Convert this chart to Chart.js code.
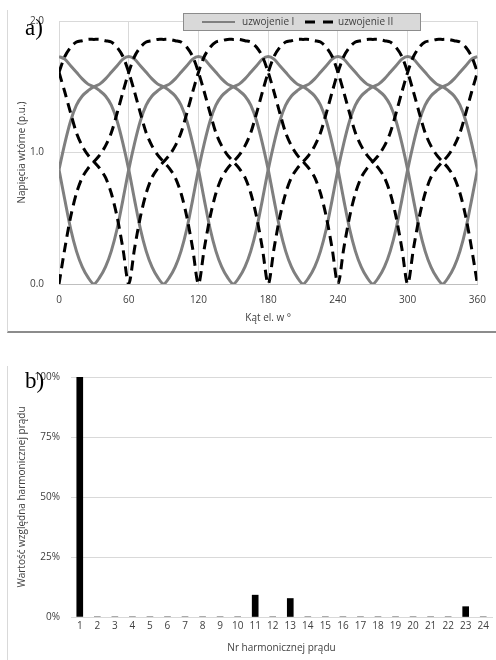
<!DOCTYPE html>
<html>
<head>
<meta charset="utf-8">
<script src="https://cdn.jsdelivr.net/npm/chart.js@4.4.1/dist/chart.umd.min.js"></script>
<style>
  body { margin: 0; background: #fff; }
  #page { position: relative; width: 496px; height: 660px; overflow: hidden; }
  canvas { position: absolute; left: 0; }
  #chartA { top: 0; width: 496px; height: 334px; }
  #chartB { top: 340px; width: 496px; height: 320px; }
  #frameA { position: absolute; left: 7px; top: 10px; width: 489px; height: 321px;
            border-left: 1px solid #d9d9d9; border-bottom: 2px solid #8c8c8c; }
  #frameB { position: absolute; left: 7px; top: 366px; width: 489px; height: 294px;
            border-left: 1px solid #d9d9d9; }
</style>
</head>
<body>
<div id="page">
  <div id="frameA"></div>
  <canvas id="chartA" width="496" height="334"></canvas>
  <div id="frameB"></div>
  <canvas id="chartB" width="496" height="320"></canvas>
</div>
<script>
// --- a) secondary voltages, every 5 degrees ---
const angles = [0,5,10,15,20,25,30,35,40,45,50,55,60,65,70,75,80,85,90,95,100,105,110,115,120,125,130,135,140,145,150,155,160,165,170,175,
  180,185,190,195,200,205,210,215,220,225,230,235,240,245,250,255,260,265,270,275,280,285,290,295,300,305,310,315,320,325,330,335,340,345,350,355,360];

// uzwojenie I (three gray curves)
const windingI_a = [
  0.87,0.64,0.42,0.25,0.13,0.05,0,0.05,0.13,0.25,0.42,0.64,
  0.87,1.07,1.24,1.36,1.43,1.47,1.50,1.52,1.56,1.61,1.66,1.71,
  1.73,1.71,1.66,1.61,1.56,1.52,1.50,1.47,1.43,1.36,1.24,1.07,
  0.87,0.64,0.42,0.25,0.13,0.05,0,0.05,0.13,0.25,0.42,0.64,
  0.87,1.07,1.24,1.36,1.43,1.47,1.50,1.52,1.56,1.61,1.66,1.71,
  1.73,1.71,1.66,1.61,1.56,1.52,1.50,1.47,1.43,1.36,1.24,1.07,
  0.87];
const windingI_b = [
  1.73,1.71,1.66,1.61,1.56,1.52,1.50,1.47,1.43,1.36,1.24,1.07,
  0.87,0.64,0.42,0.25,0.13,0.05,0,0.05,0.13,0.25,0.42,0.64,
  0.87,1.07,1.24,1.36,1.43,1.47,1.50,1.52,1.56,1.61,1.66,1.71,
  1.73,1.71,1.66,1.61,1.56,1.52,1.50,1.47,1.43,1.36,1.24,1.07,
  0.87,0.64,0.42,0.25,0.13,0.05,0,0.05,0.13,0.25,0.42,0.64,
  0.87,1.07,1.24,1.36,1.43,1.47,1.50,1.52,1.56,1.61,1.66,1.71,
  1.73];
const windingI_c = [
  0.87,1.07,1.24,1.36,1.43,1.47,1.50,1.52,1.56,1.61,1.66,1.71,
  1.73,1.71,1.66,1.61,1.56,1.52,1.50,1.47,1.43,1.36,1.24,1.07,
  0.87,0.64,0.42,0.25,0.13,0.05,0,0.05,0.13,0.25,0.42,0.64,
  0.87,1.07,1.24,1.36,1.43,1.47,1.50,1.52,1.56,1.61,1.66,1.71,
  1.73,1.71,1.66,1.61,1.56,1.52,1.50,1.47,1.43,1.36,1.24,1.07,
  0.87,0.64,0.42,0.25,0.13,0.05,0,0.05,0.13,0.25,0.42,0.64,
  0.87];

// uzwojenie II (three black dashed curves)
const windingII_a = [
  0,0.27,0.51,0.69,0.81,0.88,0.93,0.98,1.05,1.15,1.30,1.46,
  1.61,1.73,1.80,1.84,1.85,1.86,1.86,1.86,1.85,1.84,1.80,1.73,
  1.61,1.46,1.30,1.15,1.05,0.98,0.93,0.88,0.81,0.69,0.51,0.27,
  0,0.27,0.51,0.69,0.81,0.88,0.93,0.98,1.05,1.15,1.30,1.46,
  1.61,1.73,1.80,1.84,1.85,1.86,1.86,1.86,1.85,1.84,1.80,1.73,
  1.61,1.46,1.30,1.15,1.05,0.98,0.93,0.88,0.81,0.69,0.51,0.27,
  0];
const windingII_b = [
  1.61,1.46,1.30,1.15,1.05,0.98,0.93,0.88,0.81,0.69,0.51,0.27,
  0,0.27,0.51,0.69,0.81,0.88,0.93,0.98,1.05,1.15,1.30,1.46,
  1.61,1.73,1.80,1.84,1.85,1.86,1.86,1.86,1.85,1.84,1.80,1.73,
  1.61,1.46,1.30,1.15,1.05,0.98,0.93,0.88,0.81,0.69,0.51,0.27,
  0,0.27,0.51,0.69,0.81,0.88,0.93,0.98,1.05,1.15,1.30,1.46,
  1.61,1.73,1.80,1.84,1.85,1.86,1.86,1.86,1.85,1.84,1.80,1.73,
  1.61];
const windingII_c = [
  1.61,1.73,1.80,1.84,1.85,1.86,1.86,1.86,1.85,1.84,1.80,1.73,
  1.61,1.46,1.30,1.15,1.05,0.98,0.93,0.88,0.81,0.69,0.51,0.27,
  0,0.27,0.51,0.69,0.81,0.88,0.93,0.98,1.05,1.15,1.30,1.46,
  1.61,1.73,1.80,1.84,1.85,1.86,1.86,1.86,1.85,1.84,1.80,1.73,
  1.61,1.46,1.30,1.15,1.05,0.98,0.93,0.88,0.81,0.69,0.51,0.27,
  0,0.27,0.51,0.69,0.81,0.88,0.93,0.98,1.05,1.15,1.30,1.46,
  1.61];

// --- b) current harmonic spectrum ---
const harmonicOrders = ['1','2','3','4','5','6','7','8','9','10','11','12','13','14','15','16','17','18','19','20','21','22','23','24'];
const harmonicValues = [100,0,0,0,0,0,0,0,0,0,9.1,0,7.7,0,0,0,0,0,0,0,0,0,4.3,0];

const FONT = '"Open Sans", sans-serif';
const TXT = '#404040';
const GRID = '#d9d9d9';
const GRAY = '#7f7f7f';

const toPoints = arr => angles.map((a, i) => ({ x: a, y: arr[i] }));

const grayLine = arr => ({
  label: 'uzwojenie I', data: toPoints(arr),
  borderColor: GRAY, borderWidth: 3, order: 1
});
const dashLine = arr => ({
  label: 'uzwojenie II', data: toPoints(arr),
  borderColor: '#000', borderWidth: 3, borderDash: [10, 6], order: 0
});

// boxed legend sitting over the top of plot a)
const windingLegend = {
  id: 'windingLegend',
  afterDraw(chart) {
    const { ctx } = chart;
    const box = { x: 183.5, y: 13.5, w: 237, h: 17 };
    const cy = box.y + box.h / 2;
    ctx.save();
    ctx.fillStyle = '#d9d9d9';
    ctx.strokeStyle = '#8c8c8c';
    ctx.lineWidth = 1;
    ctx.fillRect(box.x, box.y, box.w, box.h);
    ctx.strokeRect(box.x, box.y, box.w, box.h);

    const items = [
      { text: 'uzwojenie I', color: GRAY, dash: [], x0: 202, x1: 235, tx: 242 },
      { text: 'uzwojenie II', color: '#000', dash: [10, 8], x0: 305, x1: 333, tx: 338 }
    ];
    ctx.font = '10px ' + FONT;
    ctx.textBaseline = 'middle';
    items.forEach(it => {
      ctx.beginPath();
      ctx.setLineDash(it.dash);
      ctx.strokeStyle = it.color;
      ctx.lineWidth = it.dash.length ? 3 : 2;
      ctx.moveTo(it.x0, cy);
      ctx.lineTo(it.x1, cy);
      ctx.stroke();
      ctx.setLineDash([]);
      ctx.fillStyle = TXT;
      ctx.fillText(it.text, it.tx, cy);
    });
    ctx.restore();
  }
};

// "a)" / "b)" panel tags
const panelTag = {
  id: 'panelTag',
  afterDraw(chart, args, opts) {
    const { ctx } = chart;
    ctx.save();
    ctx.font = '23px "Liberation Serif", serif';
    ctx.fillStyle = '#000';
    ctx.textBaseline = 'alphabetic';
    ctx.fillText(opts.text, opts.x, opts.y);
    ctx.restore();
  }
};

new Chart(document.getElementById('chartA'), {
  type: 'line',
  data: {
    datasets: [
      grayLine(windingI_a), grayLine(windingI_b), grayLine(windingI_c),
      dashLine(windingII_a), dashLine(windingII_b), dashLine(windingII_c)
    ]
  },
  options: {
    responsive: false,
    animation: false,
    devicePixelRatio: 1,
    layout: { padding: { left: 0, right: 13, top: 21, bottom: 0 } },
    elements: { point: { radius: 0 }, line: { tension: 0.3 } },
    plugins: {
      legend: { display: false },
      tooltip: { enabled: false },
      panelTag: { text: 'a)', x: 25, y: 35 }
    },
    scales: {
      x: {
        type: 'linear', min: 0, max: 360,
        ticks: { stepSize: 60, padding: 10, color: TXT, font: { family: FONT, size: 10 } },
        grid: { color: GRID, drawTicks: false },
        border: { color: '#bfbfbf' },
        title: { display: true, text: 'Kąt el. w °', color: TXT, font: { family: FONT, size: 10 }, padding: { top: 0, bottom: 10 } },
        afterFit: s => { s.height = 50; }
      },
      y: {
        min: 0, max: 2,
        ticks: { stepSize: 1, padding: 15, color: TXT, font: { family: FONT, size: 10 }, callback: v => v.toFixed(1) },
        grid: { color: GRID, drawTicks: false },
        border: { display: false },
        title: { display: true, text: 'Napięcia wtórne (p.u.)', color: TXT, font: { family: FONT, size: 10 }, padding: { top: 16, bottom: 0 } },
        afterFit: s => { s.width = 59; }
      }
    }
  },
  plugins: [windingLegend, panelTag]
});

new Chart(document.getElementById('chartB'), {
  type: 'bar',
  data: {
    labels: harmonicOrders,
    datasets: [{ label: 'harmoniczne', data: harmonicValues, backgroundColor: '#000', barThickness: 6 }]
  },
  options: {
    responsive: false,
    animation: false,
    devicePixelRatio: 1,
    layout: { padding: { left: 0, right: 4, top: 37, bottom: 0 } },
    plugins: {
      legend: { display: false },
      tooltip: { enabled: false },
      panelTag: { text: 'b)', x: 25, y: 48 }
    },
    scales: {
      x: {
        ticks: { padding: 3, color: TXT, font: { family: FONT, size: 10 } },
        grid: { display: false, drawTicks: false },
        border: { color: GRID },
        title: { display: true, text: 'Nr harmonicznej prądu', color: TXT, font: { family: FONT, size: 10 }, padding: { top: 0, bottom: 6 } },
        afterFit: s => { s.height = 43; }
      },
      y: {
        min: 0, max: 100,
        ticks: { stepSize: 25, padding: 11, color: TXT, font: { family: FONT, size: 10 }, callback: v => v + '%' },
        grid: { color: GRID, drawTicks: false },
        border: { display: false },
        title: { display: true, text: 'Wartość względna harmonicznej prądu', color: TXT, font: { family: FONT, size: 10 }, padding: { top: 16, bottom: 0 } },
        afterFit: s => { s.width = 71; }
      }
    }
  },
  plugins: [panelTag]
});
</script>
</body>
</html>
